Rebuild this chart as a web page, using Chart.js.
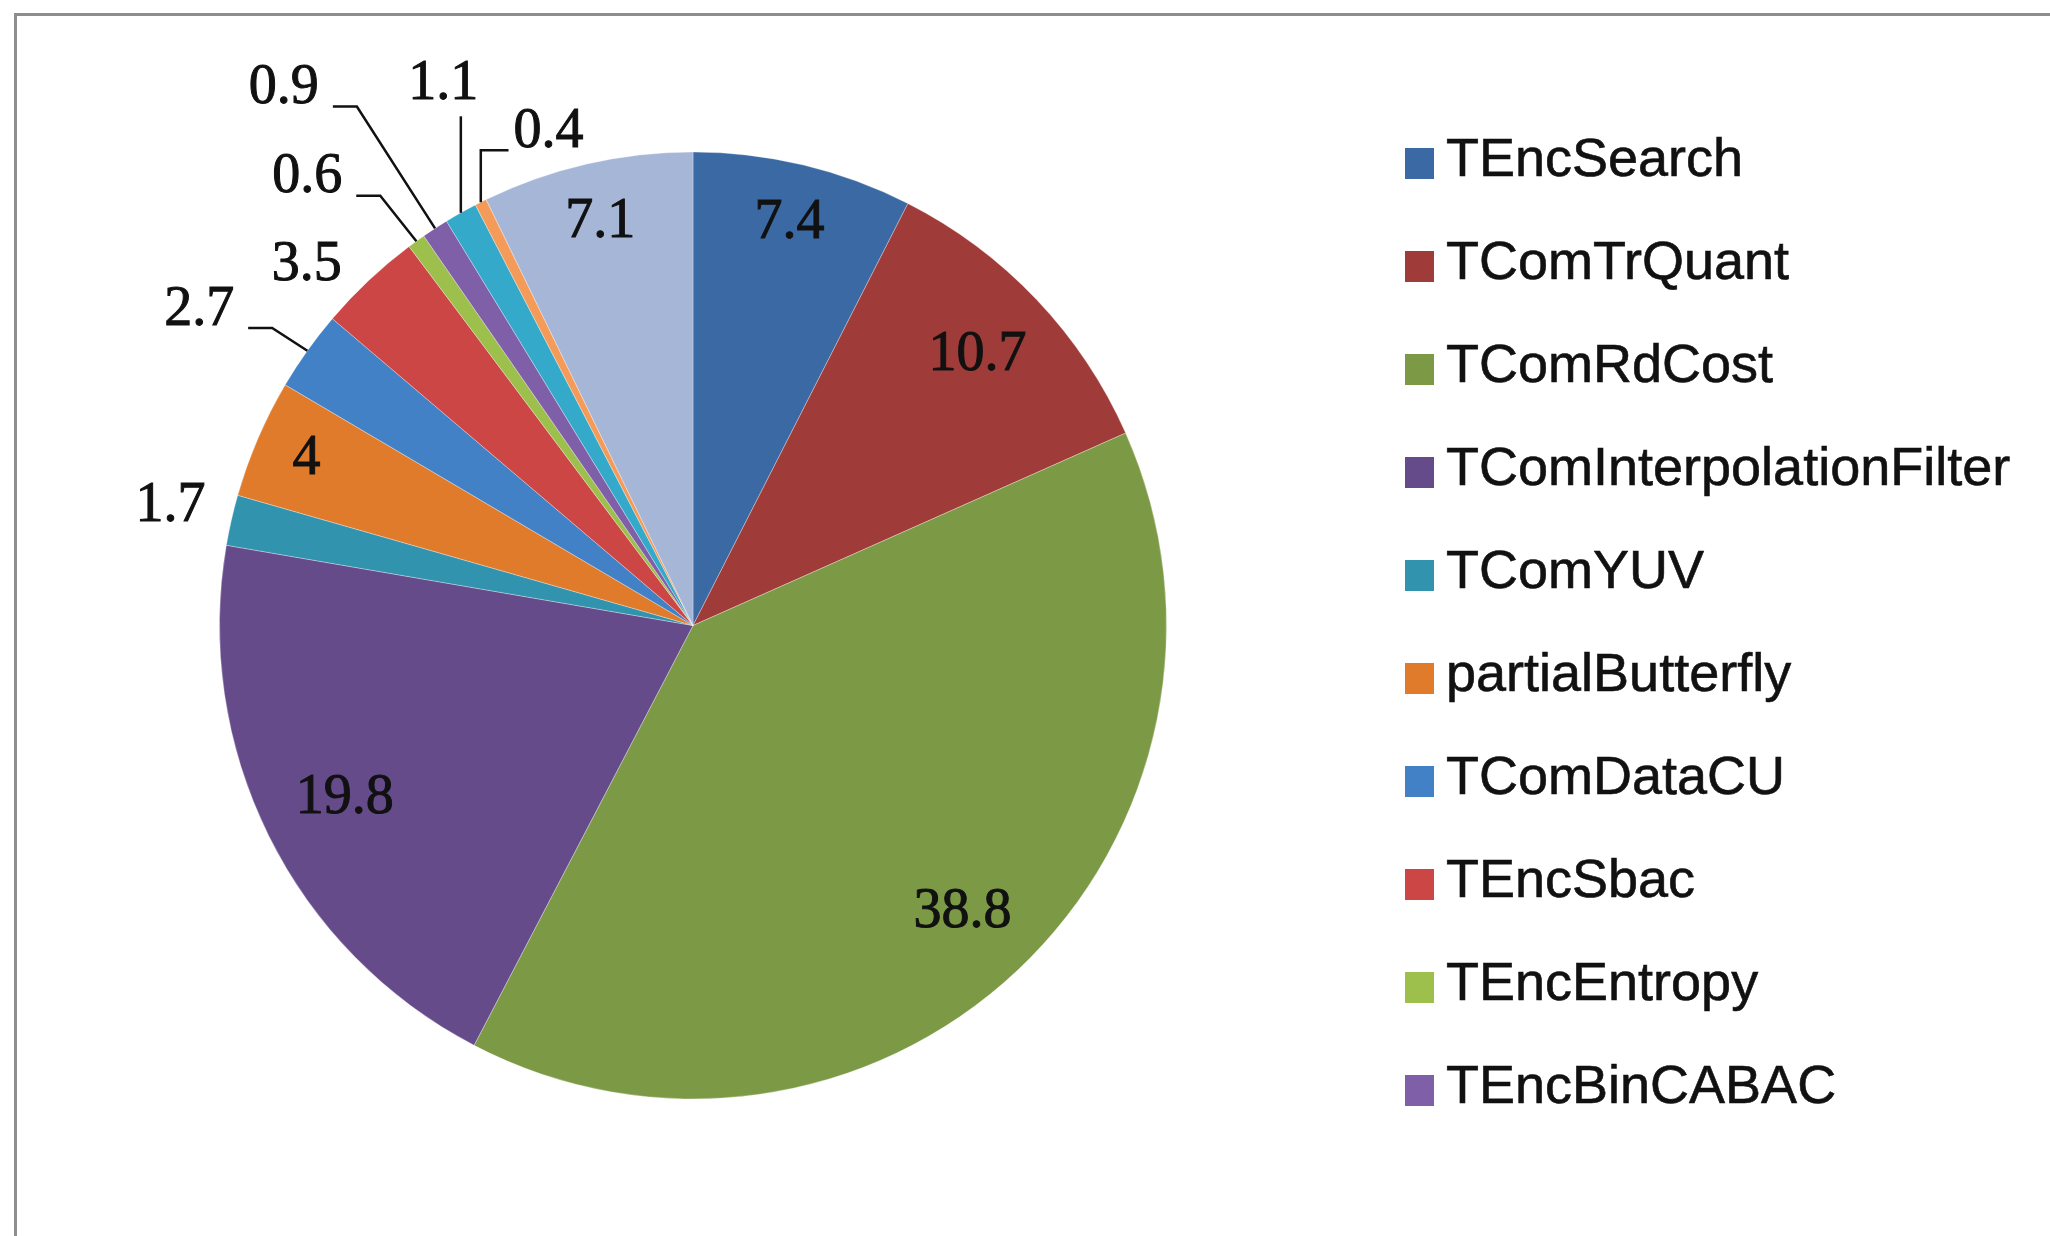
<!DOCTYPE html>
<html>
<head>
<meta charset="utf-8">
<title>Encoder profile</title>
<script src="https://cdn.jsdelivr.net/npm/chart.js@4"></script>
<style>
  html, body { margin: 0; padding: 0; background: #fff; }
  #wrap { position: relative; width: 2050px; height: 1236px; overflow: hidden; }
  #frame { position: absolute; left: 14px; top: 13px; width: 2100px; height: 1300px;
           border-left: 3px solid #8e8e8e; border-top: 3px solid #8e8e8e; }
  canvas { position: absolute; left: 0; top: 0; }
</style>
</head>
<body>
<div id="wrap">
  <div id="frame"></div>
  <canvas id="profileChart" width="2050" height="1236"></canvas>
</div>
<script>
// Share of encoding time per module (%)
var modules = ['TEncSearch', 'TComTrQuant', 'TComRdCost', 'TComInterpolationFilter', 'TComYUV',
               'partialButterfly', 'TComDataCU', 'TEncSbac', 'TEncEntropy', 'TEncBinCABAC',
               'TComPrediction', 'TComLoopFilter', 'Others'];
var shares = [7.4, 10.7, 38.8, 19.8, 1.7, 4, 2.7, 3.5, 0.6, 0.9, 1.1, 0.4, 7.1];
var sliceColors = ['#3b69a3', '#9f3b38', '#7c9a45', '#664b8b', '#3193ad', '#e07b2c', '#4381c6',
                   '#cd4646', '#9dc04d', '#7f60a8', '#35a9ca', '#f59b5a', '#a6b6d7'];

// only the first entries fit in the side legend
var legendCount = 10;

// small slices get their value outside the pie: distance from centre, angular nudge (deg)
var callouts = {
  4:  { dist: 536, shift: 0,    leader: false },
  6:  { dist: 586, shift: -2.9, leader: true },
  7:  { dist: 528, shift: -3.8, leader: false },
  8:  { dist: 591, shift: -5.0, leader: true },
  9:  { dist: 675, shift: -4.3, leader: true },
  10: { dist: 596, shift: 4.6,  leader: true },
  11: { dist: 514, shift: 10.3, leader: true }
};

var sliceLabels = {
  id: 'sliceLabels',
  afterDatasetsDraw: function(chart) {
    var ctx = chart.ctx;
    var arcs = chart.getDatasetMeta(0).data;
    ctx.save();
    ctx.font = '56px "Liberation Serif"';
    ctx.fillStyle = '#111';
    ctx.strokeStyle = '#111';
    ctx.textAlign = 'center';
    ctx.textBaseline = 'middle';
    arcs.forEach(function(arc, i) {
      var p = arc.getProps(['x', 'y', 'startAngle', 'endAngle', 'outerRadius'], true);
      var mid = (p.startAngle + p.endAngle) / 2;
      var text = String(shares[i]);
      var w = ctx.measureText(text).width;
      var h = 40;
      var c = callouts[i];
      var lx, ly;
      if (!c) {
        // inside labels sit just in from the rim
        var ext = Math.abs(Math.cos(mid)) * w / 2 + Math.abs(Math.sin(mid)) * h / 2;
        var r = p.outerRadius - 32 - ext;
        lx = p.x + r * Math.cos(mid);
        ly = p.y + r * Math.sin(mid);
      } else {
        var a = mid + c.shift * Math.PI / 180;
        lx = p.x + c.dist * Math.cos(a);
        ly = p.y + c.dist * Math.sin(a);
      }
      ctx.lineWidth = 1;
      ctx.fillText(text, lx, ly);
      ctx.strokeText(text, lx, ly);
      if (!c || !c.leader) return;
      var ex = p.x + p.outerRadius * Math.cos(mid);
      var ey = p.y + p.outerRadius * Math.sin(mid);
      var left = lx - w / 2, right = lx + w / 2, bottom = ly + h / 2;
      ctx.lineWidth = 2.5;
      ctx.beginPath();
      if (ex > right) {
        ctx.moveTo(right + 14, bottom - 2);
        ctx.lineTo(right + 38, bottom - 2);
      } else if (ex < left) {
        ctx.moveTo(left - 5, bottom - 2);
        ctx.lineTo(ex, bottom - 2);
      } else {
        ctx.moveTo(ex, bottom + 12);
      }
      ctx.lineTo(ex, ey);
      ctx.stroke();
    });
    ctx.restore();
  }
};

var sideLegend = {
  id: 'sideLegend',
  afterDraw: function(chart) {
    var ctx = chart.ctx;
    var colors = chart.data.datasets[0].backgroundColor;
    ctx.save();
    ctx.font = '54px "Liberation Sans"';
    ctx.textBaseline = 'middle';
    ctx.textAlign = 'left';
    ctx.strokeStyle = '#111';
    ctx.lineWidth = 0.6;
    for (var i = 0; i < legendCount; i++) {
      var cy = 161 + i * 103;
      ctx.fillStyle = colors[i];
      ctx.fillRect(1405, cy - 13, 29, 31);
      ctx.fillStyle = '#111';
      ctx.fillText(chart.data.labels[i], 1446, cy);
      ctx.strokeText(chart.data.labels[i], 1446, cy);
    }
    ctx.restore();
  }
};

var ctx = document.getElementById('profileChart').getContext('2d');
new Chart(ctx, {
  type: 'pie',
  data: {
    labels: modules,
    datasets: [{
      data: shares,
      backgroundColor: sliceColors,
      borderColor: 'rgba(255,255,255,0.3)',
      borderWidth: 1
    }]
  },
  options: {
    responsive: false,
    animation: false,
    layout: { padding: { left: 219, top: 151, right: 883, bottom: 136 } },
    plugins: {
      legend: { display: false },
      tooltip: { enabled: false }
    }
  },
  plugins: [sliceLabels, sideLegend]
});
</script>
</body>
</html>
